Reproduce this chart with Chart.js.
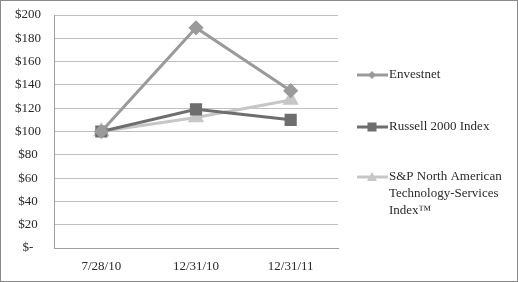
<!DOCTYPE html>
<html>
<head>
<meta charset="utf-8">
<script src="https://cdn.jsdelivr.net/npm/chart.js@4"></script>
<style>
  html, body { margin: 0; padding: 0; background: #fff; }
  #wrap { position: relative; width: 516px; height: 280px; border: 1px solid #8a8a8a; }
</style>
</head>
<body>
<div id="wrap"><canvas id="c" width="516" height="280"></canvas></div>
<script>
// ── data ──
const dates = ['7/28/10', '12/31/10', '12/31/11'];
const envestnet = [100, 189, 135];
const russell2000 = [100, 119, 110];
const spTechServices = [100, 112, 127];
const yTicks = [0, 20, 40, 60, 80, 100, 120, 140, 160, 180, 200];

const FONT = "'Liberation Serif', 'Times New Roman', serif";
const TEXT = '#2a2a2a';

// legend drawn by hand so the long label can wrap
const legendPlugin = {
  id: 'sideLegend',
  afterDraw(chart) {
    const ctx = chart.ctx;
    const items = [
      { ds: 0, y: 74, lines: ['Envestnet'] },
      { ds: 1, y: 126, lines: ['Russell 2000 Index'] },
      { ds: 2, y: 176, lines: ['S&P North American', 'Technology-Services', 'Index\u2122'] }
    ];
    ctx.save();
    items.forEach(it => {
      const d = chart.data.datasets[it.ds];
      ctx.strokeStyle = d.borderColor;
      ctx.lineWidth = 3;
      ctx.beginPath(); ctx.moveTo(356, it.y); ctx.lineTo(387, it.y); ctx.stroke();
      ctx.fillStyle = d.borderColor;
      const cx = 371, cy = it.y;
      ctx.beginPath();
      if (d.pointStyle === 'rectRot') {
        ctx.moveTo(cx, cy - 4); ctx.lineTo(cx + 4, cy); ctx.lineTo(cx, cy + 4); ctx.lineTo(cx - 4, cy);
      } else if (d.pointStyle === 'rect') {
        ctx.rect(cx - 4.5, cy - 4.5, 9, 9);
      } else {
        ctx.moveTo(cx, cy - 5); ctx.lineTo(cx + 5, cy + 4); ctx.lineTo(cx - 5, cy + 4);
      }
      ctx.closePath(); ctx.fill();
      ctx.fillStyle = TEXT;
      ctx.font = '13px ' + FONT;
      ctx.textBaseline = 'middle';
      it.lines.forEach((ln, i) => ctx.fillText(ln, 388, it.y + i * 17));
    });
    ctx.restore();
  }
};

new Chart(document.getElementById('c'), {
  type: 'line',
  data: {
    labels: dates,
    datasets: [
      { label: 'Envestnet', data: envestnet, borderColor: '#9a9a9a', backgroundColor: '#9a9a9a',
        borderWidth: 3, pointStyle: 'rectRot', pointRadius: 5.5, tension: 0 },
      { label: 'Russell 2000 Index', data: russell2000, borderColor: '#6e6e6e', backgroundColor: '#6e6e6e',
        borderWidth: 3, pointStyle: 'rect', pointRadius: 6.5, tension: 0 },
      { label: 'S&P North American Technology-Services Index\u2122', data: spTechServices, borderColor: '#c6c6c6', backgroundColor: '#c6c6c6',
        borderWidth: 3, pointStyle: 'triangle', pointRadius: 6.5, tension: 0 }
    ]
  },
  options: {
    responsive: false,
    animation: false,
    layout: { padding: { top: 14, right: 179, left: 0, bottom: 0 } },
    plugins: { legend: { display: false }, tooltip: { enabled: false } },
    scales: {
      x: {
        offset: true,
        grid: { display: false, drawTicks: false },
        border: { color: '#a0a0a0', width: 1 },
        ticks: { color: TEXT, font: { family: FONT, size: 13 }, padding: 11 },
        afterFit(s) { s.height = 33; }
      },
      y: {
        min: 0, max: 200,
        afterBuildTicks(s) { s.ticks = yTicks.map(v => ({ value: v })); },
        grid: { color: '#c0c0c0', lineWidth: 1, drawTicks: false },
        border: { color: '#a0a0a0', width: 1 },
        ticks: {
          color: TEXT, font: { family: FONT, size: 13 }, padding: 13, crossAlign: 'center',
          callback: v => v === 0 ? '$-' : '$' + v
        },
        // tick padding also inflates the top/bottom auto padding; undo that
        afterFit(s) { s.width = 53; s.paddingTop = 7; s.paddingBottom = 0; }
      }
    }
  },
  plugins: [legendPlugin]
});
</script>
</body>
</html>
